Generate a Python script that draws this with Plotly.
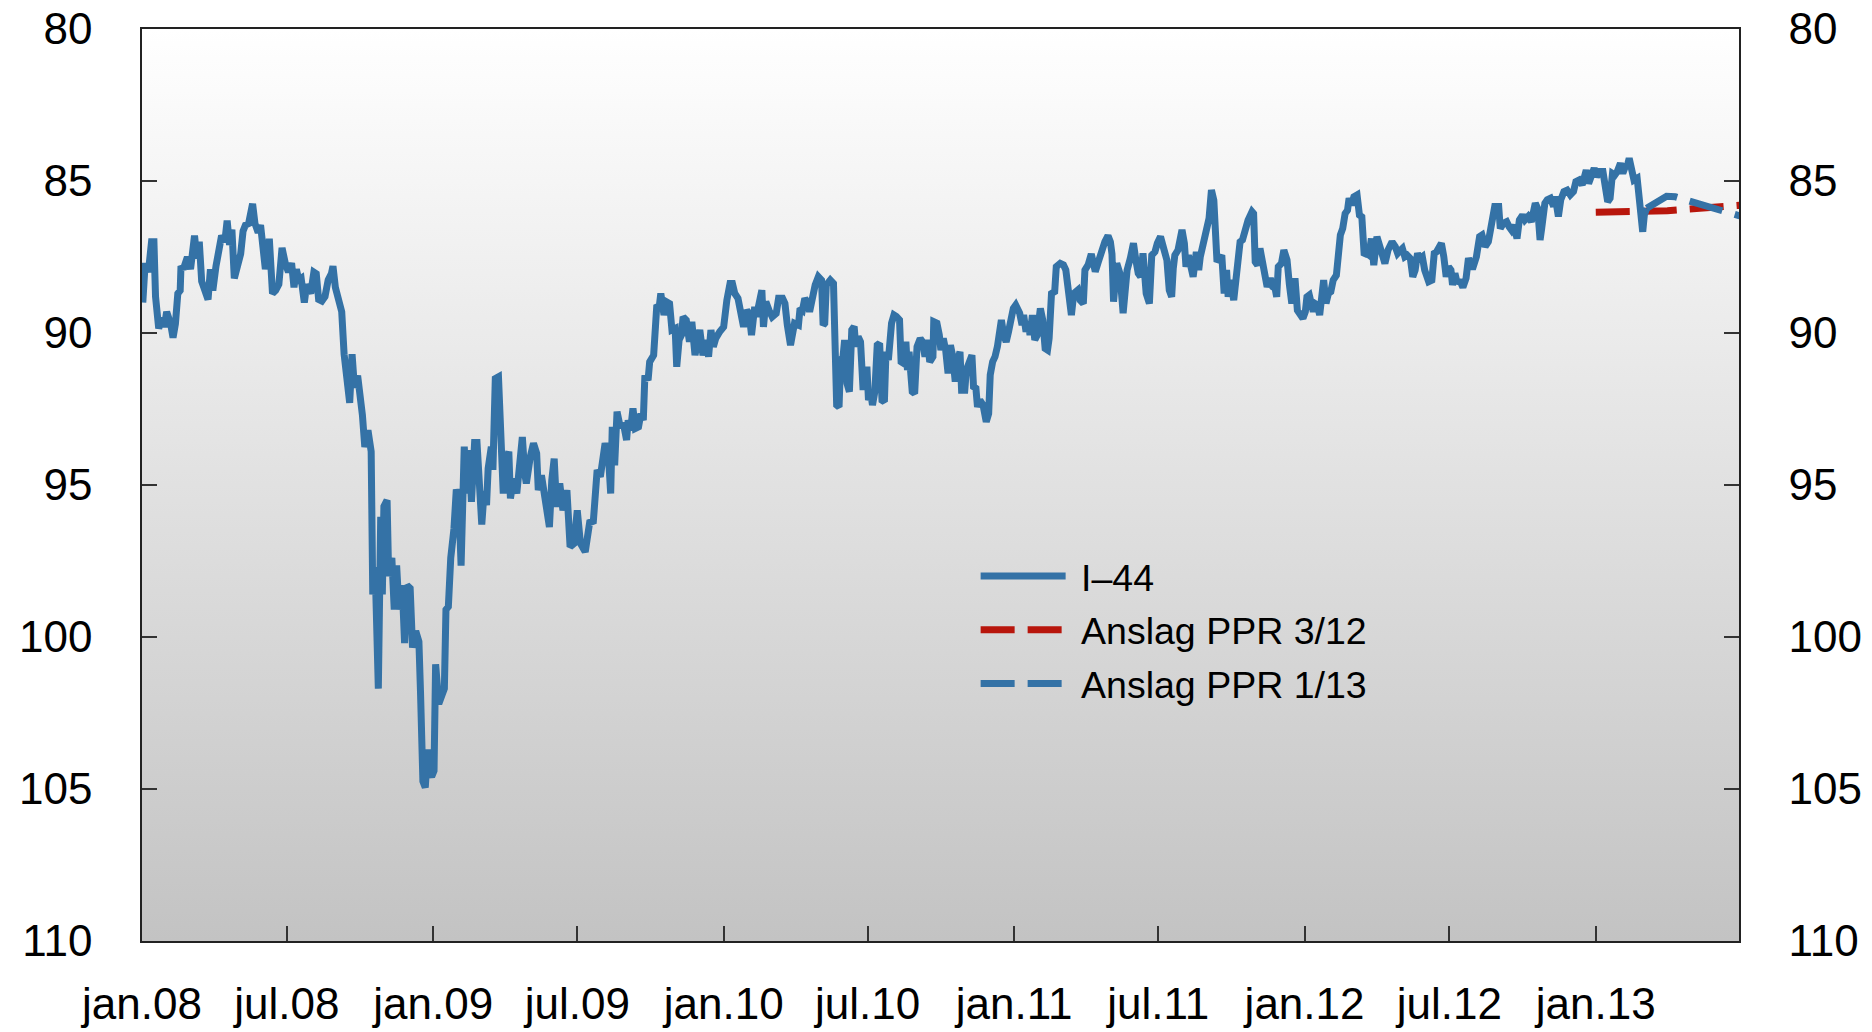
import base64
import pandas as pd
import plotly.graph_objects as go

# I-44: dager etter 1. jan 2008 og indeksverdi
i44_dag = [
    1, 4, 8, 12, 15, 17, 21, 25, 28, 31, 36, 39, 42, 45, 48, 49, 52, 57, 61, 63,
    66, 69, 72, 75, 80, 83, 86, 89, 93, 96, 100, 104, 107, 110, 113, 116, 119, 124, 127, 130,
    134, 137, 139, 142, 146, 149, 152, 155, 158, 160, 164, 168, 172, 176, 180, 184, 188, 191, 194, 197,
    200, 204, 207, 212, 216, 219, 222, 226, 230, 234, 238, 240, 243, 247, 251, 254, 256, 261, 264, 267,
    271, 274, 277, 280, 284, 288, 290, 293, 297, 300, 302, 304, 308, 310, 314, 317, 320, 323, 327, 330,
    333, 337, 340, 344, 348, 350, 353, 356, 359, 361, 364, 367, 369, 373, 376, 380, 382, 385, 388, 392,
    395, 398, 401, 405, 408, 411, 414, 418, 421, 425, 427, 430, 433, 435, 439, 441, 444, 448, 451, 454,
    458, 461, 463, 467, 471, 474, 478, 481, 483, 488, 492, 496, 498, 502, 506, 509, 512, 515, 518, 521,
    525, 529, 534, 538, 543, 547, 551, 557, 561, 563, 567, 569, 572, 576, 579, 582, 586, 589, 591, 594,
    597, 601, 605, 609, 611, 614, 617, 620, 624, 627, 630, 632, 636, 638, 643, 645, 647, 650, 652, 656,
    659, 663, 666, 670, 672, 675, 678, 680, 684, 688, 691, 695, 698, 701, 705, 709, 712, 715, 718, 721,
    726, 731, 735, 739, 742, 745, 749, 752, 756, 760, 763, 766, 770, 772, 776, 779, 781, 784, 788, 792,
    797, 800, 805, 808, 811, 815, 820, 825, 827, 830, 833, 837, 839, 842, 846, 850, 854, 856, 858, 860,
    865, 869, 871, 873, 876, 878, 881, 883, 886, 889, 892, 895, 897, 900, 903, 906, 909, 911, 913, 916,
    918, 921, 924, 927, 930, 933, 935, 938, 942, 945, 948, 952, 954, 957, 960, 962, 964, 968, 971, 974,
    978, 981, 984, 987, 990, 994, 995, 999, 1002, 1004, 1007, 1010, 1013, 1016, 1019, 1022, 1025, 1028, 1030, 1034,
    1036, 1040, 1043, 1045, 1048, 1050, 1053, 1057, 1061, 1064, 1066, 1069, 1072, 1075, 1078, 1080, 1083, 1086, 1089, 1092,
    1095, 1098, 1103, 1106, 1108, 1111, 1114, 1116, 1119, 1122, 1125, 1129, 1132, 1135, 1138, 1140, 1143, 1147, 1149, 1154,
    1158, 1161, 1164, 1168, 1171, 1176, 1179, 1183, 1185, 1189, 1193, 1198, 1202, 1206, 1210, 1214, 1217, 1219, 1221, 1225,
    1229, 1233, 1238, 1242, 1246, 1249, 1252, 1255, 1258, 1262, 1266, 1269, 1273, 1276, 1280, 1284, 1288, 1291, 1294, 1296,
    1298, 1302, 1307, 1310, 1312, 1315, 1318, 1321, 1325, 1328, 1330, 1333, 1336, 1339, 1341, 1344, 1347, 1351, 1354, 1357,
    1360, 1363, 1365, 1368, 1372, 1376, 1380, 1383, 1386, 1390, 1395, 1397, 1399, 1402, 1405, 1408, 1411, 1414, 1418, 1421,
    1424, 1426, 1428, 1432, 1435, 1439, 1442, 1445, 1447, 1449, 1452, 1455, 1459, 1462, 1464, 1467, 1470, 1472, 1474, 1477,
    1480, 1483, 1485, 1488, 1491, 1494, 1497, 1501, 1504, 1506, 1509, 1512, 1515, 1517, 1520, 1523, 1527, 1530, 1533, 1536,
    1539, 1542, 1545, 1548, 1552, 1555, 1558, 1562, 1566, 1571, 1575, 1578, 1582, 1584, 1587, 1590, 1594, 1597, 1600, 1603,
    1606, 1609, 1612, 1617, 1621, 1624, 1627, 1630, 1633, 1636, 1639, 1642, 1645, 1647, 1650, 1653, 1656, 1660, 1664, 1667,
    1672, 1677, 1681, 1684, 1688, 1692, 1695, 1698, 1700, 1705, 1707, 1711, 1715, 1718, 1721, 1724, 1728, 1731, 1735, 1738,
    1742, 1746, 1751, 1754, 1757, 1759, 1763, 1766, 1770, 1774, 1776, 1780, 1783, 1787, 1791, 1795, 1799, 1802, 1806, 1810,
    1815, 1818, 1821, 1825, 1828, 1832, 1836, 1839, 1842, 1845, 1848, 1851, 1854, 1858, 1861, 1864, 1867, 1869, 1872, 1875,
    1879, 1881, 1883, 1886, 1888, 1891,
]
i44_verdi = [
    89.0, 87.7, 88.0, 87.0, 87.0, 88.8, 89.85, 89.5, 89.8, 89.3, 89.7, 90.15, 89.7, 88.7, 88.6, 87.8, 87.9, 87.5, 87.9, 87.4,
    86.8, 87.55, 87.0, 88.3, 88.6, 88.9, 87.9, 88.6, 87.8, 87.4, 86.8, 87.0, 86.3, 87.1, 86.6, 88.2, 87.8, 87.4, 86.65, 86.45,
    86.4, 86.1, 85.75, 86.4, 86.7, 86.45, 87.2, 87.9, 87.5, 86.9, 88.7, 88.6, 88.4, 87.2, 87.7, 88.0, 87.7, 88.5, 87.9, 88.25,
    88.2, 89.0, 88.4, 88.7, 88.0, 88.05, 88.9, 88.95, 88.8, 88.25, 88.05, 87.8, 88.5, 89.0, 89.3, 90.7, 91.3, 92.3, 90.7, 91.8,
    91.4, 92.0, 92.7, 93.75, 93.2, 93.9, 98.6, 97.7, 101.7, 96.05, 98.6, 95.7, 95.5, 98.0, 97.4, 99.1, 97.65, 99.1, 98.3, 100.2,
    98.3, 98.4, 100.35, 99.8, 100.15, 101.8, 104.75, 104.95, 103.7, 104.45, 104.6, 104.4, 100.9, 102.2, 101.95, 101.7, 99.1, 99.0, 97.4, 96.45,
    95.15, 95.4, 97.65, 93.74, 95.28, 93.85, 95.55, 93.6, 93.6, 95.8, 96.3, 95.2, 95.66, 94.46, 93.74, 94.5, 91.5, 91.44, 93.6, 95.28,
    94.18, 93.9, 95.44, 94.79, 95.28, 94.24, 93.42, 94.62, 94.95, 94.07, 93.63, 93.96, 95.17, 94.68, 95.39, 95.83, 96.38, 94.84, 94.13, 95.72,
    94.95, 95.83, 95.17, 97.03, 96.92, 95.83, 96.92, 97.2, 96.43, 96.16, 96.27, 95.72, 94.51, 94.73, 93.96, 93.63, 93.96, 95.28, 93.09, 94.35,
    92.59, 93.09, 92.98, 93.52, 92.87, 93.2, 92.48, 93.14, 93.09, 92.65, 92.87, 91.39, 91.55, 90.95, 90.73, 89.63, 89.08, 89.14, 88.7, 89.41,
    88.97, 89.03, 89.9, 89.85, 91.11, 90.23, 90.07, 89.47, 89.58, 90.29, 89.63, 90.73, 90.12, 89.9, 90.73, 90.23, 90.78, 89.9, 90.45, 90.18,
    89.96, 89.8, 88.92, 88.37, 88.37, 88.7, 88.86, 89.36, 89.8, 89.25, 89.36, 90.07, 89.14, 89.47, 89.03, 88.59, 89.8, 88.97, 89.25, 89.47,
    89.36, 88.86, 88.86, 89.03, 89.74, 90.4, 89.68, 89.74, 89.19, 89.25, 88.86, 89.03, 89.3, 88.75, 88.42, 88.15, 88.26, 89.74, 89.68, 88.42,
    88.26, 88.37, 91.99, 92.37, 92.43, 90.89, 90.78, 90.23, 91.66, 91.93, 89.9, 89.79, 90.45, 90.12, 90.29, 91.77, 91.77, 91.11, 92.21, 91.99,
    92.37, 91.93, 90.4, 90.34, 92.21, 92.26, 90.62, 90.89, 89.68, 89.41, 89.46, 89.57, 90.95, 91.0, 90.29, 91.22, 90.62, 91.93, 91.99, 90.45,
    90.18, 90.29, 90.78, 90.23, 90.95, 90.78, 89.63, 89.68, 90.07, 90.56, 90.18, 90.56, 91.33, 90.4, 90.78, 91.6, 90.89, 90.62, 91.88, 91.88,
    91.22, 90.89, 90.73, 91.77, 91.82, 92.43, 92.21, 92.37, 92.92, 92.65, 91.38, 90.95, 90.78, 90.45, 89.63, 89.57, 90.07, 90.29, 89.96, 89.46,
    89.19, 89.08, 89.35, 89.74, 89.41, 89.96, 89.63, 90.07, 89.41, 90.23, 90.07, 89.19, 89.57, 90.51, 90.56, 90.18, 88.7, 88.64, 87.82, 87.71,
    87.76, 87.93, 88.64, 89.41, 88.7, 88.59, 88.92, 89.03, 87.93, 87.76, 87.4, 87.98, 87.65, 87.3, 87.0, 86.8, 87.0, 87.4, 88.97, 87.71,
    88.04, 89.35, 87.93, 87.55, 87.05, 87.6, 88.04, 88.15, 87.38, 88.7, 89.03, 87.44, 87.33, 87.05, 86.83, 87.22, 87.6, 88.59, 88.81, 87.88,
    87.44, 87.27, 86.61, 87.05, 87.82, 87.44, 87.77, 88.15, 87.33, 87.93, 87.49, 87.11, 87.0, 86.4, 86.23, 85.3, 85.63, 87.66, 87.55, 87.44,
    88.7, 87.93, 88.81, 88.26, 88.92, 88.15, 87.0, 86.94, 86.56, 86.29, 86.01, 86.07, 87.66, 87.77, 87.22, 87.77, 87.93, 88.48, 88.2, 88.48,
    88.53, 88.81, 87.82, 87.71, 87.27, 87.6, 88.42, 89.03, 88.59, 88.2, 89.25, 89.41, 89.52, 89.3, 88.81, 88.75, 89.03, 89.3, 89.03, 89.08,
    89.41, 88.42, 88.26, 89.03, 88.7, 88.64, 88.26, 88.1, 87.27, 86.78, 86.56, 86.07, 85.96, 85.57, 85.79, 85.52, 85.46, 86.12, 86.18, 87.44,
    87.38, 87.44, 86.89, 87.77, 86.83, 87.11, 87.38, 87.71, 87.27, 87.0, 87.16, 87.38, 87.27, 87.22, 87.49, 87.44, 87.55, 88.15, 87.93, 87.38,
    87.55, 87.49, 87.93, 88.31, 88.26, 87.38, 87.33, 87.11, 87.05, 87.49, 88.15, 87.82, 87.93, 88.42, 88.04, 88.37, 88.26, 88.5, 88.2, 87.54,
    87.9, 87.49, 86.83, 86.78, 87.16, 87.0, 86.5, 86.23, 85.84, 85.84, 86.56, 86.39, 86.34, 86.5, 86.61, 86.45, 86.89, 86.28, 86.12, 86.28,
    86.17, 86.34, 85.73, 85.9, 86.94, 86.56, 85.73, 85.62, 85.57, 85.84, 85.51, 86.17, 85.62, 85.35, 85.3, 85.46, 85.35, 85.02, 84.97, 85.13,
    84.64, 85.08, 84.86, 84.58, 84.86, 84.69, 84.69, 85.08, 85.68, 85.57, 84.75, 84.8, 84.69, 84.42, 84.75, 84.53, 84.47, 84.25, 84.75, 84.97,
    84.91, 85.62, 86.12, 86.67, 86.12, 85.9,
]

# Anslag
ppr312_dato = ["2013-01-01", "2013-03-01", "2013-04-01", "2013-07-01"]
ppr312_verdi = [86.03, 86.03, 85.98, 85.8]

ppr113_dato = ["2013-03-06", "2013-03-31", "2013-04-11", "2013-07-01"]
ppr113_verdi = [85.9, 85.5, 85.52, 86.15]

# Akser
x_tick_dato = ["2008-01-01", "2008-07-01", "2009-01-01", "2009-07-01", "2010-01-01", "2010-07-01",
               "2011-01-01", "2011-07-01", "2012-01-01", "2012-07-01", "2013-01-01"]
x_tick_tekst = ["jan.08", "jul.08", "jan.09", "jul.09", "jan.10", "jul.10",
                "jan.11", "jul.11", "jan.12", "jul.12", "jan.13"]
y_ticks = [80, 85, 90, 95, 100, 105, 110]

BLA = "#3472a6"
ROD = "#b8160c"
FONT = "Liberation Sans, Arial, sans-serif"
NBSP = "\u00a0"  # litt luft mellom strek og tekst i legenden

i44_dato = pd.Timestamp("2008-01-01") + pd.to_timedelta(i44_dag, unit="D")

fig = go.Figure()

fig.add_trace(go.Scatter(
    x=ppr312_dato, y=ppr312_verdi, mode="lines", name=NBSP + "Anslag PPR 3/12",
    line=dict(color=ROD, width=7, dash="34px,13px"), legendrank=2, legendgroup="b",
))
fig.add_trace(go.Scatter(
    x=i44_dato, y=i44_verdi, mode="lines", name=NBSP + "I\u201344",
    line=dict(color=BLA, width=7), legendrank=1, legendgroup="a",
))
fig.add_trace(go.Scatter(
    x=ppr113_dato, y=ppr113_verdi, mode="lines", name=NBSP + "Anslag PPR 1/13",
    line=dict(color=BLA, width=7, dash="34px,13px"), legendrank=3, legendgroup="c",
    yaxis="y2",
))

# gradient bakgrunn i plottet (hvit -> grå)
bg_svg = (
    '<svg xmlns="http://www.w3.org/2000/svg" width="10" height="100" viewBox="0 0 10 100" '
    'preserveAspectRatio="none"><defs><linearGradient id="g" x1="0" y1="0" x2="0" y2="1">'
    '<stop offset="0" stop-color="#ffffff"/><stop offset="1" stop-color="#c3c3c3"/>'
    '</linearGradient></defs><rect width="10" height="100" fill="url(#g)"/></svg>'
)
bg_src = "data:image/svg+xml;base64," + base64.b64encode(bg_svg.encode()).decode()

yakse = dict(
    range=[110, 80], tickvals=y_ticks, ticks="inside", ticklen=15, tickwidth=1.5,
    tickcolor="#333", showline=True, linecolor="#222", linewidth=1.5,
    showgrid=False, zeroline=False, tickfont=dict(size=44, color="black", family=FONT),
    ticklabelstandoff=39, automargin=False,
)

fig.update_layout(
    width=1872, height=1032,
    margin=dict(l=142, r=133, t=29, b=91),
    paper_bgcolor="white",
    plot_bgcolor="rgba(0,0,0,0)",
    font=dict(family=FONT, color="black"),
    images=[dict(source=bg_src, xref="paper", yref="paper", x=0, y=1, sizex=1, sizey=1,
                 xanchor="left", yanchor="top", sizing="stretch", layer="below")],
    xaxis=dict(
        range=["2008-01-01", "2013-06-30"], tickvals=x_tick_dato, ticktext=x_tick_tekst,
        ticks="inside", ticklen=15, tickwidth=1.5, tickcolor="#333",
        showline=True, linecolor="#222", linewidth=1.5, mirror=True,
        showgrid=False, zeroline=False, tickfont=dict(size=44, color="black", family=FONT),
        ticklabelstandoff=23, automargin=False,
    ),
    yaxis=dict(side="left", **yakse),
    yaxis2=dict(side="right", overlaying="y", **yakse),
    legend=dict(
        x=0.522, y=0.434, xanchor="left", yanchor="top",
        bgcolor="rgba(0,0,0,0)", font=dict(size=37.5, color="black", family=FONT),
        itemwidth=85, traceorder="grouped", tracegroupgap=2,
    ),
    showlegend=True,
)

# siden uten marg, slik at figuren starter i hjørnet
fig.write_html("out.html", config={"displayModeBar": False},
               post_script="document.body.style.margin='0';")
